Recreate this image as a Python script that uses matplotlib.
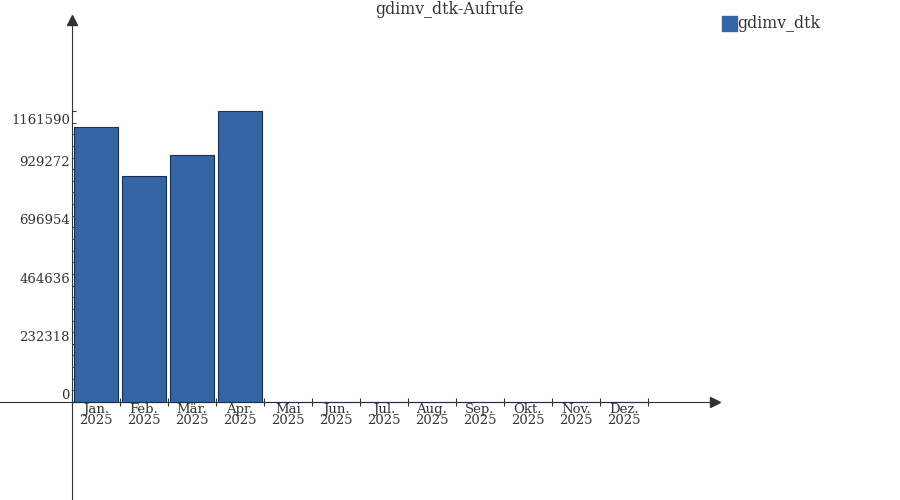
import numpy as np
import matplotlib
matplotlib.use("Agg")
import matplotlib.pyplot as plt
from matplotlib.patches import Rectangle

# Daten
monate = ["Jan.", "Feb.", "Mär.", "Apr.", "Mai", "Jun.", "Jul.", "Aug.",
          "Sep.", "Okt.", "Nov.", "Dez."]
jahr = "2025"
aufrufe = [1096500, 900900, 984800, 1161590, 0, 0, 0, 0, 0, 0, 0, 0]
y_ticks = [0, 232318, 464636, 696954, 929272, 1161590]
serie = "gdimv_dtk"
titel = "gdimv_dtk-Aufrufe"

blau = "#3465a4"
rand = "#1c2f4d"
grau = "#333333"

plt.rcParams['font.family'] = ['DejaVu Serif']

fig = plt.figure(figsize=(9, 5), dpi=100)
ax = fig.add_axes([0, 0, 1, 1])

# pixel -> data: x slot 48px, Achse bei px 72; y 0 bei px 402, max bei px 111
px_y = 1161590 / 291.0
ax.set_xlim(-2.0, 16.75)
ax.set_ylim(-98 * px_y, 402 * px_y)

x = np.arange(len(monate))
ax.bar(x, aufrufe, width=0.9, color=blau, edgecolor=rand, linewidth=0.8, zorder=3)

for s in ["top", "right"]:
    ax.spines[s].set_visible(False)
ax.spines["left"].set_position(("data", -0.5))
ax.spines["bottom"].set_position(("data", 0))
ax.spines["left"].set_bounds(-98 * px_y, 383 * px_y)
ax.spines["bottom"].set_bounds(-2.0, 12.9)
ax.spines["left"].set_color(grau)
ax.spines["bottom"].set_color(grau)

# Pfeile
ax.plot(-0.5, 382 * px_y, marker="^", color=grau, markersize=6.5, clip_on=False, zorder=4)
ax.plot(12.9, 0, marker=">", color=grau, markersize=6.5, clip_on=False, zorder=4)

# x-Achse
ax.set_xticks(np.arange(-0.5, 12, 1.0))
ax.set_xticklabels([])
ax.tick_params(axis="x", which="major", direction="inout", length=6, color=grau)
ax.set_xticks(x, minor=True)
ax.set_xticklabels([m + "\n" + jahr for m in monate], minor=True,
                   fontsize=9.5, color=grau, linespacing=0.8)
ax.tick_params(axis="x", which="minor", length=0, pad=1)

# y-Achse
ax.set_yticks(y_ticks)
ax.set_yticklabels([])
ax.set_yticks(np.arange(0, 1161590 + 1, 1161590 / 25), minor=True)
ax.tick_params(axis="y", which="both", direction="in", length=3, color=grau)
for i, v in enumerate(y_ticks):
    if i == len(y_ticks) - 1:
        ax.annotate(str(v), (-0.5, v), xytext=(-1.5, -2), textcoords="offset points",
                    ha="right", va="top", fontsize=9.5, color=grau)
    else:
        ax.annotate(str(v), (-0.5, v), xytext=(-1.5, 0), textcoords="offset points",
                    ha="right", va="bottom", fontsize=9.5, color=grau)

# Titel und Legende
fig.text(0.5, 0.998, titel, ha="center", va="top", fontsize=11.3, color=grau)
fig.patches.append(Rectangle((722 / 900, 1 - 31 / 500), 15 / 900, 15 / 500,
                             transform=fig.transFigure, color=blau, figure=fig))
fig.text(737 / 900, 1 - 23 / 500, serie, ha="left", va="center",
         fontsize=11.3, color=grau)

fig.savefig("out.png", dpi=100)
